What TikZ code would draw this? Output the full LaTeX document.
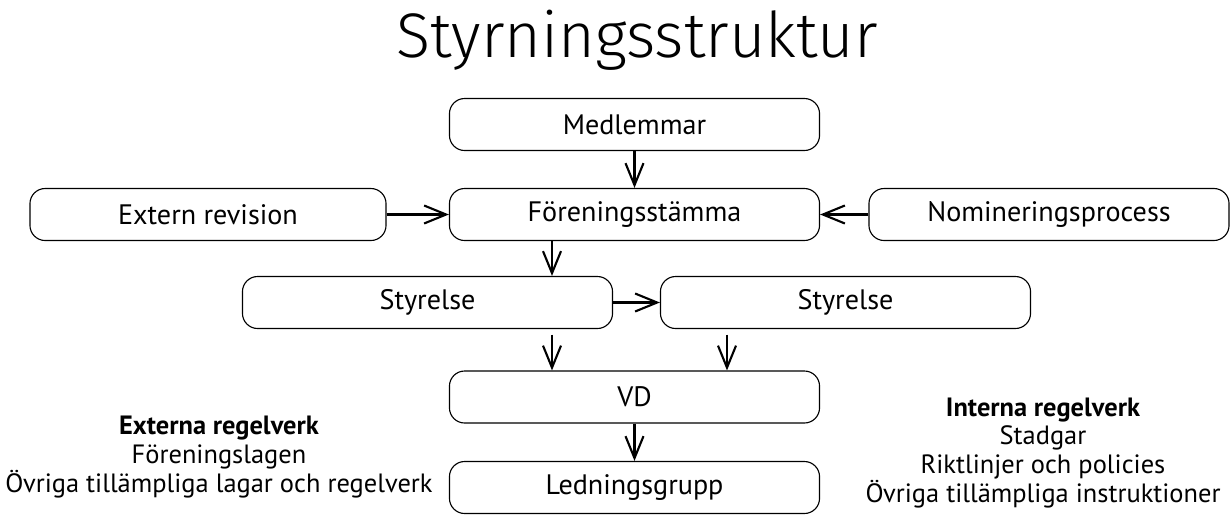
\documentclass[tikz,border=0pt]{standalone}
\usepackage{fontspec}
\setmainfont{PT Sans}
\newfontfamily\titlefont{Fira Sans}[UprightFont=* Light]
\usetikzlibrary{arrows.meta}

\tikzset{
  box/.style={draw, line width=0.8pt, rounded corners=0.38cm, minimum width=9.25cm,
    minimum height=1.3cm, inner sep=0pt, font=\fontsize{20}{24}\selectfont},
  arr/.style={line width=1.5pt, -{Straight Barb[length=0.55cm,width=0.45cm,line width=1.5pt]}},
  rules/.style={align=center, font=\fontsize{18.8}{20.6}\selectfont}
}

\begin{document}
\begin{tikzpicture}[x=0.025cm,y=-0.025cm]
\useasboundingbox (0,0) rectangle (1230,515);
\node[anchor=base, font=\titlefont\fontsize{44.8}{52}\selectfont] (title) at (637,57) {Styrningsstruktur};

\node[box] (med) at (634.5,124.5) {Medlemmar};
\node[box, minimum width=8.9cm] (ext) at (208,214.5) {Extern revision};
\node[box] (fs) at (634.5,214.5) {Föreningsstämma};
\node[box, minimum width=9cm] (nom) at (1049,214.5) {Nomineringsprocess};
\node[box] (sl) at (427.5,302.5) {Styrelse};
\node[box] (sr) at (845.5,302.5) {Styrelse};
\node[box] (vd) at (634.5,397) {VD};
\node[box] (lg) at (634.5,487.5) {Ledningsgrupp};

\node[rules] (extregler) at (219,457) {\textbf{Externa regelverk}\\Föreningslagen\\Övriga tillämpliga lagar och regelverk};
\node[rules] (intregler) at (1043,453) {\textbf{Interna regelverk}\\Stadgar\\Riktlinjer och policies\\Övriga tillämpliga instruktioner};

\coordinate (a) at (552,0);
\coordinate (b) at (727,0);

\draw[arr] (med) -- (fs);
\draw[arr] (ext) -- (fs);
\draw[arr] (nom) -- (fs);
\draw[arr] (fs.south -| a) -- (sl.north -| a);
\draw[arr] (sl) -- (sr);
\draw[arr, shorten <=4pt] (sl.south -| a) -- (vd.north -| a);
\draw[arr, shorten <=4pt] (sr.south -| b) -- (vd.north -| b);
\draw[arr] (vd) -- (lg);
\end{tikzpicture}
\end{document}
